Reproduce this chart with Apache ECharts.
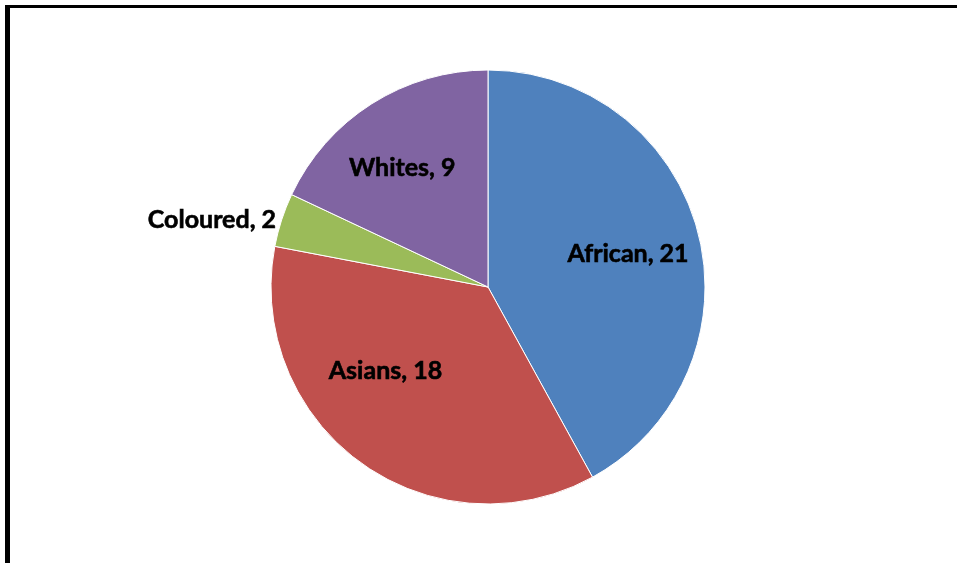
<!DOCTYPE html>
<html><head><meta charset="utf-8">
<script src="https://cdn.jsdelivr.net/npm/echarts@6/dist/echarts.min.js"></script>
<style>html,body{margin:0;padding:0;background:#fff}#c{width:957px;height:563px}</style>
</head><body><div id="c"></div>
<script>
const categories = ['African', 'Asians', 'Coloured', 'Whites'];
const values = [21, 18, 2, 9];
const colors = ['#4F81BD', '#C0504D', '#9BBB59', '#8064A2'];
const labelOffsets = [[32, -5], [-37, -6], [-170, -33], [-26, -25]];

const chart = echarts.init(document.getElementById('c'), null, {renderer: 'canvas'});
chart.setOption({
  animation: false,
  graphic: [
    {type: 'line', shape: {x1: 7.5, y1: 5, x2: 7.5, y2: 600}, style: {stroke: '#000', lineWidth: 5}},
    {type: 'line', shape: {x1: 5, y1: 6.5, x2: 1000, y2: 6.5}, style: {stroke: '#000', lineWidth: 3}}
  ],
  series: [{
    type: 'pie',
    center: [488, 287],
    radius: [0, 217],
    startAngle: 90,
    clockwise: true,
    silent: true,
    itemStyle: {borderColor: '#fff', borderWidth: 1},
    labelLine: {show: false},
    data: categories.map((n, i) => ({
      name: n, value: values[i],
      itemStyle: {color: colors[i]},
      label: {offset: labelOffsets[i]}
    })),
    label: {
      show: true, position: 'inside',
      formatter: '{b}, {c}',
      color: '#000', fontFamily: 'Lato', fontWeight: 'bold', fontSize: 25,
      textBorderColor: '#000', textBorderWidth: 0.6
    }
  }]
});
</script></body></html>
